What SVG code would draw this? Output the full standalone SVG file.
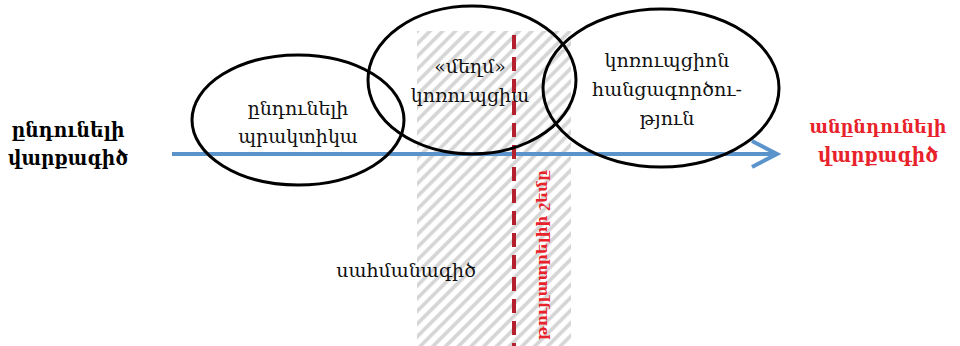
<svg xmlns="http://www.w3.org/2000/svg" width="960" height="346" viewBox="0 0 960 346">
<defs>
<pattern id="hatch" width="9" height="9" patternUnits="userSpaceOnUse" patternTransform="rotate(45)">
<rect width="9" height="9" fill="#ffffff"/>
<line x1="2" y1="0" x2="2" y2="9" stroke="#d4d4d4" stroke-width="3.5"/>
</pattern>
</defs>
<style>
.lbl{font-family:"DejaVu Serif","Liberation Serif",serif;font-size:19px;fill:#111;text-anchor:middle}
.side{font-family:"DejaVu Serif","Liberation Serif",serif;font-size:21px;font-weight:bold;text-anchor:middle}
.ell{fill:none;stroke:#000;stroke-width:3}
</style>
<g id="zone">
<rect x="417" y="31" width="154" height="315" fill="url(#hatch)"/>
</g>
<g id="connectors">
<line x1="172" y1="154" x2="776" y2="154" stroke="#5b93cb" stroke-width="4"/>
<polyline points="752,141 777,154 752,167" fill="none" stroke="#5b93cb" stroke-width="4"/>
</g>
<g id="threshold">
<line x1="514" y1="35" x2="514" y2="346" stroke="#b4202e" stroke-width="4" stroke-dasharray="14,8"/>
<text transform="translate(547,255) rotate(-90)" style="font-family:'DejaVu Serif','Liberation Serif',serif;font-size:15px;font-weight:bold;fill:#e8222a;text-anchor:middle">թույլատրելիի շեմը</text>
</g>
<g id="node-acceptable">
<text class="side" fill="#000" x="68" y="137" textLength="113" lengthAdjust="spacingAndGlyphs">ընդունելի</text>
<text class="side" fill="#000" x="68" y="165" textLength="120" lengthAdjust="spacingAndGlyphs">վարքագիծ</text>
</g>
<g id="node-unacceptable">
<text class="side" fill="#e8222a" x="878" y="133" style="font-size:19px" textLength="137" lengthAdjust="spacingAndGlyphs">անընդունելի</text>
<text class="side" fill="#e8222a" x="878" y="162" textLength="120" lengthAdjust="spacingAndGlyphs">վարքագիծ</text>
</g>
<g id="node-practice">
<ellipse class="ell" cx="298" cy="120" rx="106" ry="65"/>
<text class="lbl" x="298" y="115">ընդունելի</text>
<text class="lbl" x="298" y="143">պրակտիկա</text>
</g>
<g id="node-soft">
<ellipse class="ell" cx="472" cy="80" rx="104" ry="74"/>
<text class="lbl" x="470" y="73">«մեղմ»</text>
<text class="lbl" x="470" y="102">կոռուպցիա</text>
</g>
<g id="node-crime">
<ellipse class="ell" cx="661" cy="88" rx="118" ry="79"/>
<text class="lbl" x="667" y="67">կոռուպցիոն</text>
<text class="lbl" x="667" y="96">հանցագործու-</text>
<text class="lbl" x="667" y="125">թյուն</text>
</g>
<g id="node-boundary">
<text class="lbl" x="406" y="277">սահմանագիծ</text>
</g>
</svg>
